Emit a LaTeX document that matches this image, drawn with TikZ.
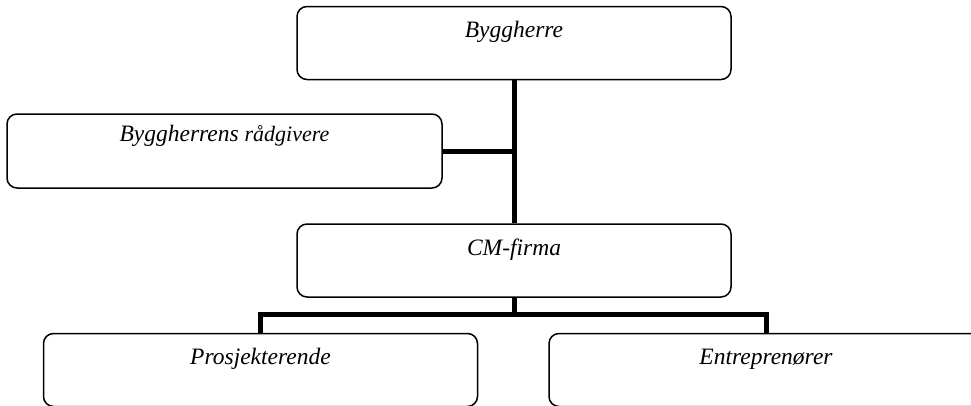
\documentclass[tikz,border=0pt]{standalone}
\usepackage{fontspec}
\setmainfont{Liberation Serif}
\begin{document}
\begin{tikzpicture}[x=1pt,y=-1pt]
      \useasboundingbox (0,0) rectangle (971,405);

      \tikzstyle{orgbox} = [
        rectangle,
        rounded corners=10pt,
        draw=black,
        line width=1.5pt,
        inner sep=0pt,
        minimum width=434pt,
        minimum height=73pt,
        text height=31pt,
        text depth=42pt,
        align=center,
        font=\fontsize{23.5}{28}\selectfont\itshape
      ]

      \tikzstyle{link} = [line width=5pt, draw=black]

      % top
      \node[orgbox] (byggherre) at (514,43) {Byggherre};

      % advisers
      \node[orgbox,minimum width=435pt,text height=27pt,text depth=47pt] (raadgiver) at (224.5,151) {Byggherrens \fontsize{22}{26}\selectfont r\r{a}dgivere};

      % CM
      \node[orgbox] (cmfirma) at (514,260.5) {CM-firma};

      % bottom row
      \node[orgbox] (prosj) at (260.5,370) {Prosjekterende};
      \node[orgbox] (entr) at (766,370) {Entrepren\o rer};

      % links
      \coordinate (split) at ([yshift=-17pt] cmfirma.south);
      \draw[link] (byggherre.south) -- (cmfirma.north);
      \draw[link] (raadgiver.east) -- (raadgiver.east -| cmfirma.north);
      \draw[link] (cmfirma.south) -- (split);
      \draw[link] (prosj.north) |- (split) -| (entr.north);
    \end{tikzpicture}
\end{document}
